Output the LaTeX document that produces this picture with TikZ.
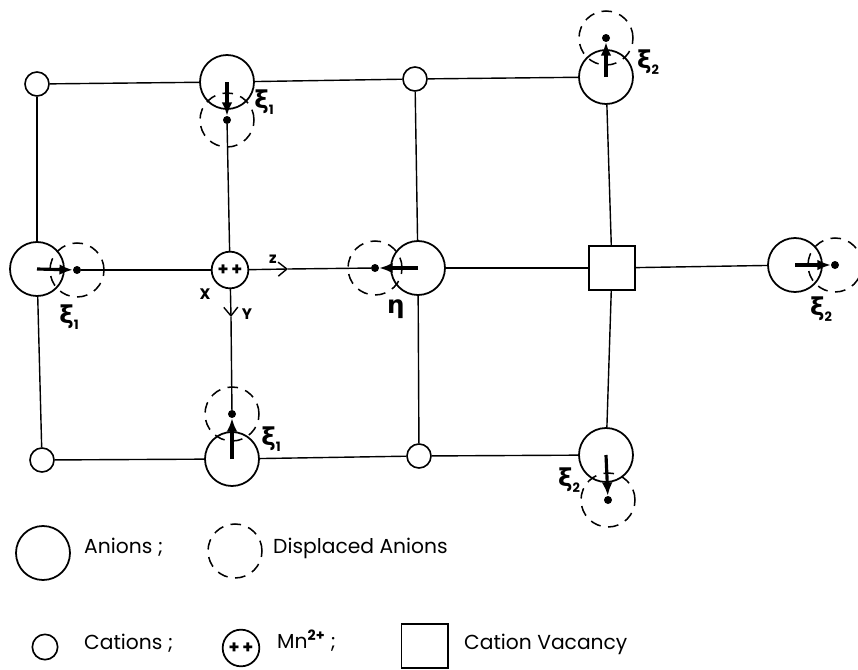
\documentclass[tikz,border=0pt]{standalone}
\usepackage{fontspec}
\setmainfont{Poppins}
\newfontfamily\grecfont[BoldFont=DejaVu Sans Bold]{DejaVu Sans}
\newcommand{\lettre}[2]{{\grecfont\bfseries #1}\raisebox{-0.45ex}{\fontsize{11}{11}\selectfont\bfseries #2}}
\usetikzlibrary{arrows.meta}
\begin{document}
\begin{tikzpicture}[x=0.03cm,y=-0.03cm]
	\tikzset{anion/.style={circle, draw=black, line width=1.5pt, inner sep=0, minimum width=1.62cm},
		depl/.style={anion, line width=1.3pt, dash pattern=on 9pt off 6.5pt},
		cation/.style={circle, draw=black, line width=1.4pt, inner sep=0, minimum width=0.72cm},
		mn/.style={circle, draw=black, line width=1.5pt, inner sep=0, minimum width=1.1cm, font=\bfseries\fontsize{15}{15}\selectfont},
		lacune/.style={rectangle, draw=black, line width=1.7pt, inner sep=0, minimum width=1.38cm, minimum height=1.32cm},
		point/.style={circle, fill=black, inner sep=0, minimum width=0.24cm},
		lien/.style={line width=1.2pt},
		depla/.style={line width=2.7pt, -{Latex[length=0.4cm,width=0.32cm]}},
		axe/.style={line width=1.2pt, -{Straight Barb[length=0.26cm,width=0.42cm]}},
		texte/.style={font=\fontsize{17.3}{20}\selectfont, anchor=base west, inner sep=0},
		petit/.style={font=\bfseries\fontsize{13}{14}\selectfont, inner sep=0},
		sym/.style={inner sep=0, font=\fontsize{21}{23}\selectfont}};
	\useasboundingbox (0,0) rectangle (858,670);

	% sites du reseau
	\node[cation] (c1) at (37,84) {};
	\node[cation] (c2) at (415,79) {};
	\node[cation] (c3) at (42,460) {};
	\node[cation] (c4) at (419,456) {};
	\node[anion] (a1) at (227,82) {};
	\node[anion] (a2) at (606,77) {};
	\node[anion] (a3) at (37,269) {};
	\node[anion] (a4) at (418,268) {};
	\node[anion] (a5) at (795,265) {};
	\node[anion] (a6) at (232,459) {};
	\node[anion] (a7) at (606,455) {};
	\node[mn] (m) at (230,270) {+\,+};
	\node[lacune] (v) at (612,268) {};

	% anions deplaces
	\node[depl] (d1) at (227,120) {};
	\node[depl] (d2) at (606,38) {};
	\node[depl] (d3) at (77,270) {};
	\node[depl] (d4) at (375,268) {};
	\node[depl] (d5) at (835,265) {};
	\node[depl] (d6) at (232,414) {};
	\node[depl] (d7) at (608,500) {};
	\node[point] (p1) at (227,120) {};
	\node[point] (p2) at (606,38) {};
	\node[point] (p3) at (77,270) {};
	\node[point] (p4) at (375,268) {};
	\node[point] (p5) at (835,265) {};
	\node[point] (p6) at (232,414) {};
	\node[point] (p7) at (608,500) {};

	\coordinate (z) at (288,269);
	\coordinate (y) at (231,317);

	\draw[lien] (c1) -- (a1);
	\draw[lien] (a1) -- (c2);
	\draw[lien] (c2) -- (a2);
	\draw[lien] (c1) -- (a3);
	\draw[lien] (a3) -- (c3);
	\draw[lien] (c3) -- (a6);
	\draw[lien] (a6) -- (c4);
	\draw[lien] (c4) -- (a7);
	\draw[lien] (c2) -- (a4);
	\draw[lien] (a4) -- (c4);
	\draw[lien] (a2) -- (v);
	\draw[lien] (v) -- (a7);
	\draw[lien] (a4) -- (v);
	\draw[lien] (v) -- (a5);
	\draw[lien] (p1) -- (m);
	\draw[lien] (p3) -- (m);
	\draw[lien] (z) -- (p4);
	\draw[lien] (y) -- (p6);
	\draw[axe] (m) -- (z);
	\draw[axe] (m) -- (y);

	\draw[depla] (a1.center) -- (p1);
	\draw[depla] (a2.center) -- (p2);
	\draw[depla] (a3.center) -- (p3);
	\draw[depla] (a4.center) -- (p4);
	\draw[depla] (a5.center) -- (p5);
	\draw[depla] (a6.center) -- (p6);
	\draw[depla] (a7.center) -- (p7);

	\node[sym] (l1) at (264,102) {\lettre{ξ}{1}};
	\node[sym] (l2) at (648,62) {\lettre{ξ}{2}};
	\node[sym] (l3) at (69,317) {\lettre{ξ}{1}};
	\node[sym] (l4) at (396,309) {{\grecfont\bfseries η}};
	\node[sym] (l5) at (821,309) {\lettre{ξ}{2}};
	\node[sym] (l6) at (271,439) {\lettre{ξ}{1}};
	\node[sym] (l7) at (569,480) {\lettre{ξ}{2}};
	\node[petit] (lz) at (273,259) {z};
	\node[petit] (lx) at (205,294) {X};
	\node[petit] (ly) at (247,314) {Y};

	% legende
	\node[anion] (k1) at (43,553) {};
	\node[texte] (t1) at (84,553) {Anions ;};
	\node[depl] (k2) at (235,551) {};
	\node[texte] (t2) at (273,553) {Displaced Anions};
	\node[cation, minimum width=0.76cm] (k3) at (45,647) {};
	\node[texte] (t3) at (84,649) {Cations ;};
	\node[mn] (k4) at (241,648) {+\,+};
	\node[texte] (t4) at (277,648) {Mn\textsuperscript{\bfseries 2+} ;};
	\node[lacune] (k5) at (424.5,646) {};
	\node[texte] (t5) at (464,649) {Cation Vacancy};
\end{tikzpicture}
\end{document}
